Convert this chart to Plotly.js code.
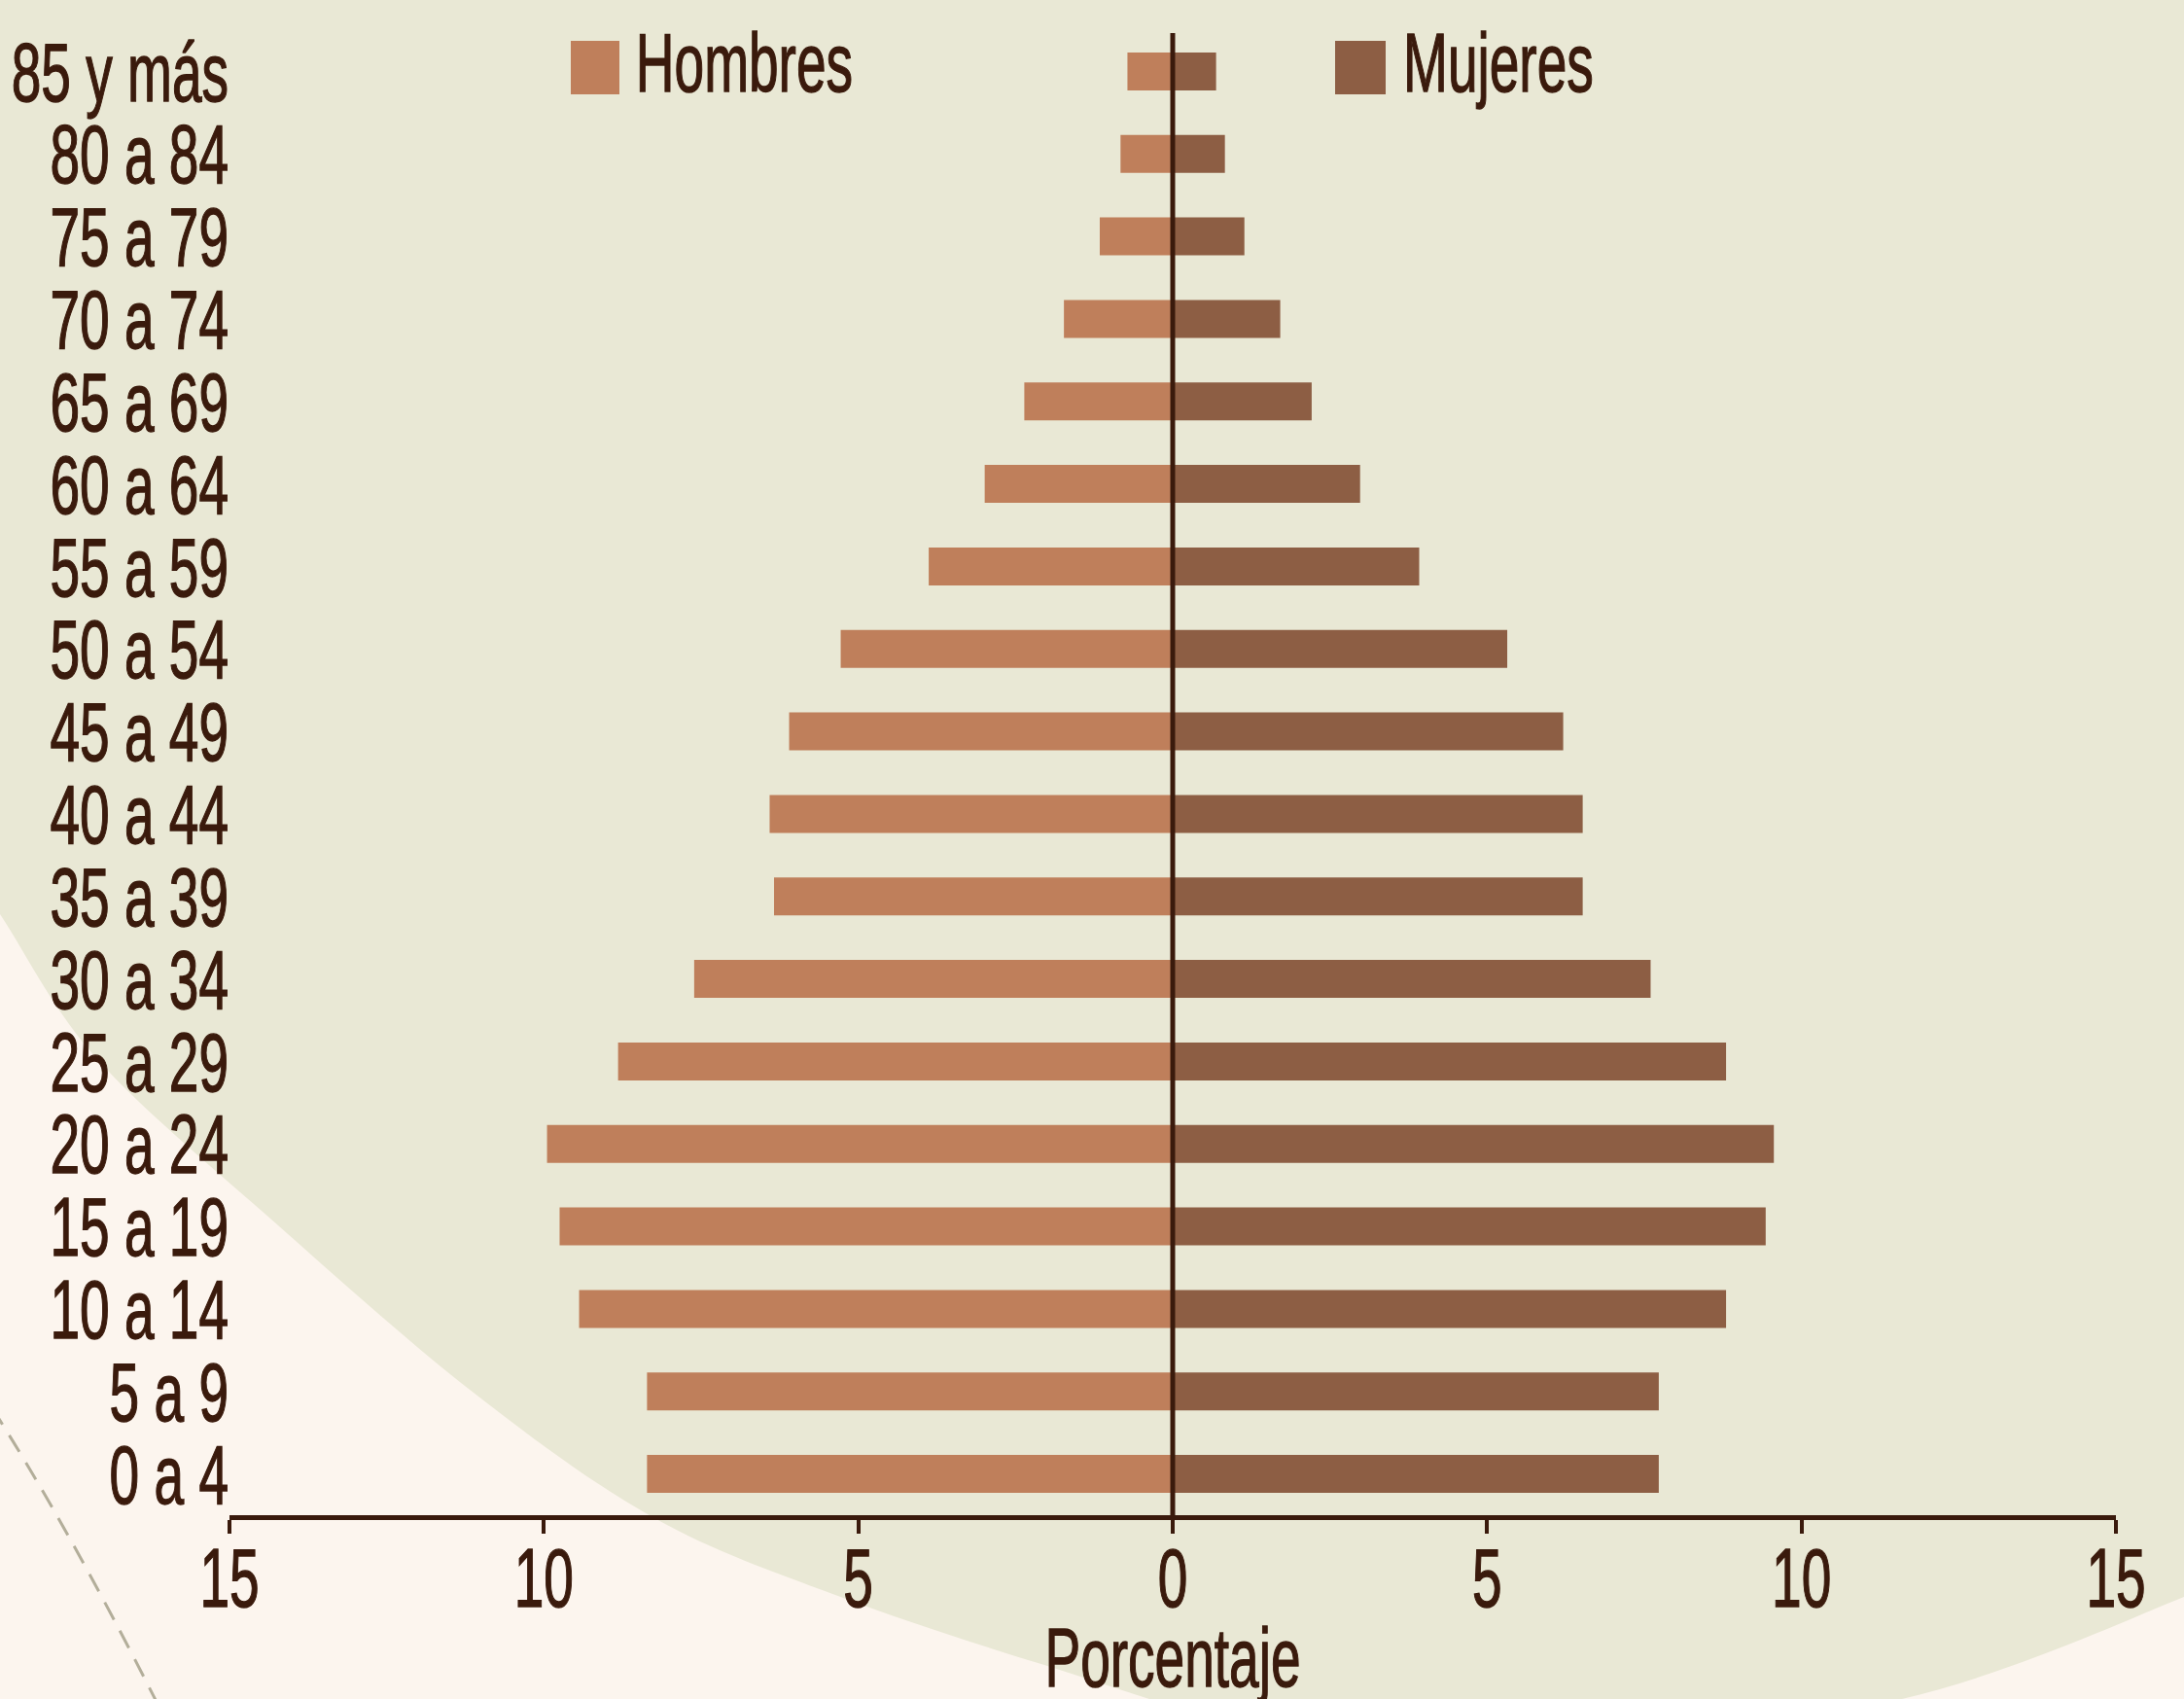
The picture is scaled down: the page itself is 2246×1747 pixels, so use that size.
<!DOCTYPE html>
<html>
<head>
<meta charset="utf-8">
<script src="https://cdn.plot.ly/plotly-3.0.1.min.js"></script>
<style>
  html, body { margin: 0; padding: 0; background: #fcf5ee; }
  #chart { width: 2246px; height: 1747px; }
  /* slightly heavier lettering */
  #chart text { stroke: #3a1a0c; stroke-width: 1.4px; paint-order: stroke; }
</style>
</head>
<body>
<div id="chart"></div>
<script>
// Age groups, bottom to top
const ageGroups = [
  "0 a 4", "5 a 9", "10 a 14", "15 a 19", "20 a 24", "25 a 29",
  "30 a 34", "35 a 39", "40 a 44", "45 a 49", "50 a 54", "55 a 59",
  "60 a 64", "65 a 69", "70 a 74", "75 a 79", "80 a 84", "85 y más"
];

// Share of the population (%) in each age group
const hombres = [8.36, 8.36, 9.44, 9.75, 9.95, 8.82, 7.61, 6.34, 6.41, 6.10, 5.28, 3.88, 2.99, 2.36, 1.73, 1.16, 0.83, 0.72];
const mujeres = [7.73, 7.73, 8.80, 9.43, 9.56, 8.80, 7.60, 6.52, 6.52, 6.21, 5.32, 3.92, 2.98, 2.21, 1.71, 1.14, 0.83, 0.69];

const seriesNames = ["Hombres", "Mujeres"];
const seriesColors = ["#bf7f5b", "#8d5e44"];

const xTickVals = [-15, -10, -5, 0, 5, 10, 15];
const xTickText = ["15", "10", "5", "0", "5", "10", "15"];
const xTitle = "Porcentaje";

// Page geometry
const W = 2246, H = 1747;
const M = { l: 236, r: 70, t: 31, b: 189 };
const plotW = W - M.l - M.r, plotH = H - M.t - M.b;
const px = x => (x - M.l) / plotW;          // pixel x -> paper x
const py = y => (H - M.b - y) / plotH;      // pixel y -> paper y

const ink = "#3a1a0c";
const fontFamily = "'Liberation Sans', Arial, sans-serif";
const fontSize = 86;
const condense = 0.64;   // horizontal squeeze for a condensed type look

// Smooth curve through pixel points (Catmull-Rom as cubic Béziers), in paper units
function smoothThrough(pts) {
  let d = "";
  for (let i = 0; i < pts.length - 1; i++) {
    const p0 = pts[Math.max(i - 1, 0)], p1 = pts[i], p2 = pts[i + 1], p3 = pts[Math.min(i + 2, pts.length - 1)];
    const c1 = [p1[0] + (p2[0] - p0[0]) / 6, p1[1] + (p2[1] - p0[1]) / 6];
    const c2 = [p2[0] - (p3[0] - p1[0]) / 6, p2[1] - (p3[1] - p1[1]) / 6];
    d += ` C${px(c1[0])},${py(c1[1])} ${px(c2[0])},${py(c2[1])} ${px(p2[0])},${py(p2[1])}`;
  }
  return d;
}

// Large soft green disc behind the chart
const edge = [[-60, 850], [0, 940], [100, 1089], [286, 1260], [487, 1432], [673, 1561],
              [859, 1640], [1074, 1712], [1300, 1775], [1600, 1792], [1956, 1747],
              [2246, 1642], [2320, 1600]];
const discPath = `M${px(-60)},${py(-40)} L${px(edge[0][0])},${py(edge[0][1])}` +
  smoothThrough(edge) + ` L${px(2320)},${py(-40)} Z`;

// Dashed decorative arc at the lower left
const arcPath = `M${px(-8)},${py(1448)} Q${px(70)},${py(1570)} ${px(162)},${py(1752)}`;

const traces = [
  {
    type: "bar", orientation: "h", name: seriesNames[0],
    y: ageGroups, x: hombres.map(v => -v),
    marker: { color: seriesColors[0] },
    hoverinfo: "skip"
  },
  {
    type: "bar", orientation: "h", name: seriesNames[1],
    y: ageGroups, x: mujeres,
    marker: { color: seriesColors[1] },
    hoverinfo: "skip"
  }
];

// Legend: swatch + label for each series
const legendSwatches = [
  { x0: px(587), x1: px(637) },
  { x0: px(1373), x1: px(1425) }
];
const legendLabelCenter = [px(765), px(1541)];

const shapes = [
  { type: "path", xref: "paper", yref: "paper", path: discPath,
    fillcolor: "#e9e8d5", line: { width: 0 }, layer: "below" },
  { type: "path", xref: "paper", yref: "paper", path: arcPath,
    line: { color: "#b3ae9a", width: 3, dash: "20px,13px" }, layer: "below" },
  { type: "line", xref: "x", yref: "paper", x0: 0, x1: 0, y0: 0, y1: py(34),
    line: { color: ink, width: 5 }, layer: "above" }
];
seriesNames.forEach((name, i) => {
  shapes.push({
    type: "rect", xref: "paper", yref: "paper",
    x0: legendSwatches[i].x0, x1: legendSwatches[i].x1, y0: py(97), y1: py(42),
    fillcolor: seriesColors[i], line: { width: 0 }, layer: "above"
  });
});

const annotations = seriesNames.map((name, i) => ({
  xref: "paper", yref: "paper", x: legendLabelCenter[i], y: py(64),
  xanchor: "center", yanchor: "middle", showarrow: false, text: name,
  font: { family: fontFamily, size: fontSize, color: ink }
}));

const layout = {
  width: W, height: H,
  margin: M,
  paper_bgcolor: "#fcf5ee",
  plot_bgcolor: "rgba(0,0,0,0)",
  barmode: "relative",
  bargap: 0.54,
  showlegend: false,
  font: { family: fontFamily, size: fontSize, color: ink },
  xaxis: {
    range: [-15, 15], fixedrange: true,
    tickmode: "array", tickvals: xTickVals, ticktext: xTickText,
    showgrid: false, zeroline: false,
    showline: true, linecolor: ink, linewidth: 5,
    ticks: "outside", ticklen: 14, tickwidth: 4, tickcolor: ink,
    ticklabelstandoff: -28,
    tickfont: { family: fontFamily, size: fontSize, color: ink },
    title: { text: xTitle, font: { family: fontFamily, size: fontSize, color: ink } }
  },
  yaxis: {
    type: "category", categoryorder: "array", categoryarray: ageGroups,
    tickmode: "array", tickvals: ageGroups, ticktext: ageGroups,
    range: [-0.5, ageGroups.length - 0.5], fixedrange: true,
    showgrid: false, zeroline: false, showline: false, ticks: "",
    tickfont: { family: fontFamily, size: fontSize, color: ink }
  },
  shapes: shapes,
  annotations: annotations
};

// Squeeze every text horizontally around its own anchor point
function condenseTexts(gd, factor) {
  gd.querySelectorAll("text").forEach(t => {
    const x = parseFloat(t.getAttribute("x")) || 0;
    const prev = t.getAttribute("transform") || "";
    t.setAttribute("transform", `${prev} translate(${x},0) scale(${factor},1) translate(${-x},0)`);
  });
}

// Drop the x-axis title a little lower, toward the page foot
function lowerXTitle(gd, dy) {
  gd.querySelectorAll(".g-xtitle text").forEach(t => {
    const prev = t.getAttribute("transform") || "";
    t.setAttribute("transform", `translate(0,${dy}) ${prev}`);
  });
}

Plotly.newPlot("chart", traces, layout, { displayModeBar: false, staticPlot: true })
  .then(gd => { condenseTexts(gd, condense); lowerXTitle(gd, 5); });
</script>
</body>
</html>
